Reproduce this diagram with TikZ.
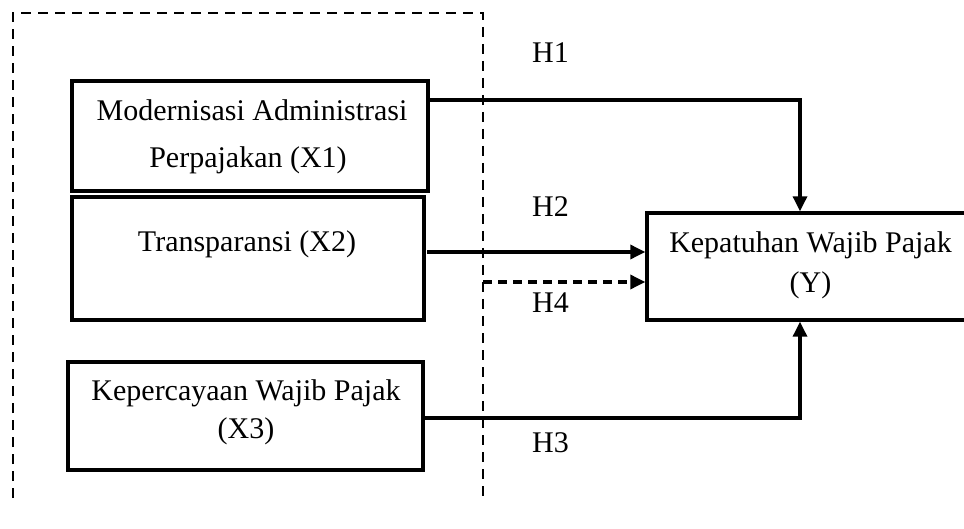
\documentclass[tikz,border=0pt]{standalone}
\usepackage{fontspec}
\setmainfont{Liberation Serif}
\usetikzlibrary{arrows.meta}
\begin{document}
\begin{tikzpicture}[x=1pt,y=-1pt,
  box/.style={draw,line width=3.4pt,rectangle,inner sep=0pt},
  txt/.style={font=\fontsize{30}{40}\selectfont,anchor=base,inner sep=0pt},
  hlab/.style={font=\fontsize{30}{40}\selectfont,anchor=base west,inner sep=0pt},
  arr/.style={line width=3.3pt,-{Triangle[length=15pt,width=14pt]}},
  frame/.style={line width=2.5pt,dash pattern=on 10pt off 7pt}]
\useasboundingbox (0,0) rectangle (964,529);
\clip (0,0) rectangle (964,529);
% dashed frame
\draw[frame] (13,498) -- (13,13) -- (483,13) -- (483,498);
% boxes
\node[box,minimum width=356pt,minimum height=110pt] (X1) at (250,136) {};
\node[box,minimum width=352pt,minimum height=123pt] (X2) at (248,258.5) {};
\node[box,minimum width=355pt,minimum height=108pt] (X3) at (245.5,416) {};
\node[box,minimum width=330pt,minimum height=107pt] (Y) at (812,266.5) {};
% texts
\node[txt] (t1a) at (252,121) {Modernisasi Administrasi};
\node[txt] (t1b) at (248,168) {Perpajakan (X1)};
\node[txt] (t2) at (247,252) {Transparansi (X2)};
\node[txt] (t3a) at (246,400) {Kepercayaan Wajib Pajak};
\node[txt] (t3b) at (246,438) {(X3)};
\node[txt] (tya) at (810.5,253) {Kepatuhan Wajib Pajak};
\node[txt] (tyb) at (810.5,293) {(Y)};
% hypothesis labels
\node[hlab] (H1) at (532,63) {H1};
\node[hlab] (H2) at (532,217) {H2};
\node[hlab] (H4) at (532,313) {H4};
\node[hlab] (H3) at (532,452) {H3};
% connector coordinates
\coordinate (h1) at (800,100);
\coordinate (h2) at (427,252);
\coordinate (h4) at (483,282);
\coordinate (h3) at (800,418);
% connectors
\draw[arr] (X1.east |- h1) -| (h1 |- Y.north);
\draw[arr] (h2) -- (Y.west |- h2);
\draw[arr,dash pattern=on 9pt off 6pt] (h4) -- (Y.west |- h4);
\draw[arr] (X3.east |- h3) -| (h3 |- Y.south);
\end{tikzpicture}
\end{document}
